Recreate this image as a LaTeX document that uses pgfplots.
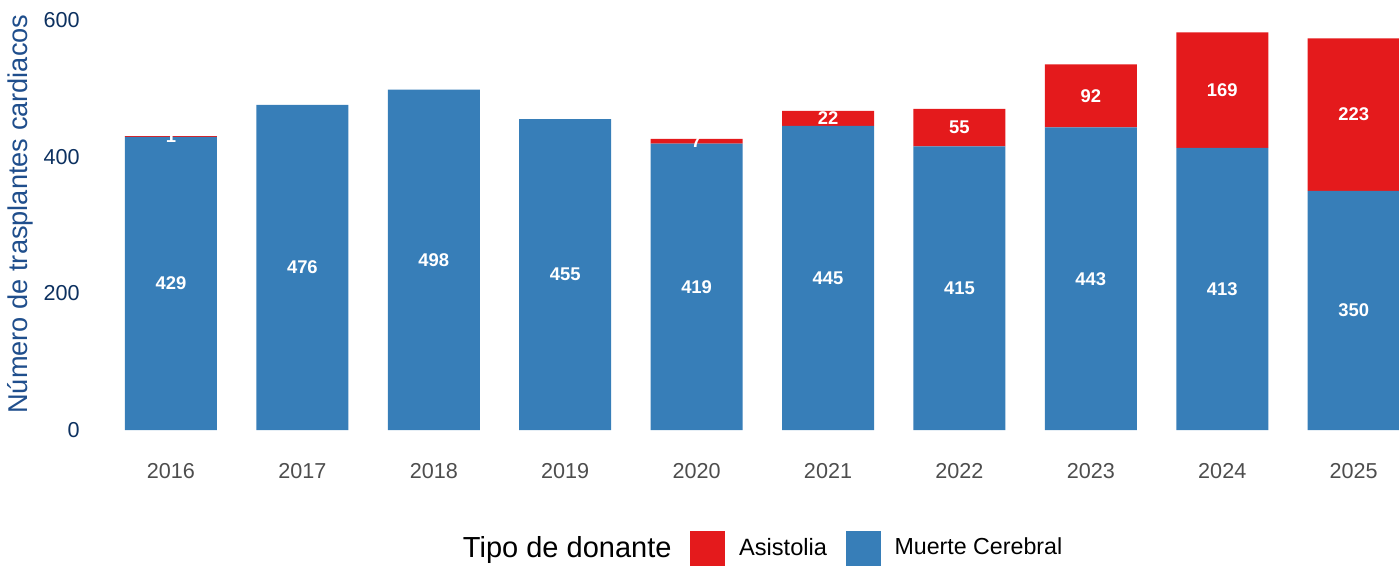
\documentclass[border=0pt]{standalone}
\usepackage{fontspec}
\setmainfont{Liberation Sans}
\usepackage{pgfplots}
\usepackage{pgfplotstable}
\pgfplotsset{compat=1.18}
\definecolor{mcblue}{HTML}{377EB8}
\definecolor{asred}{HTML}{E41A1C}
\definecolor{tickblue}{HTML}{0D3160}
\definecolor{labblue}{HTML}{1F4E8C}
\definecolor{xgray}{HTML}{4D4D4D}
\pgfplotstableread{
x mc as
1 429 1
2 476 0
3 498 0
4 455 0
5 419 7
6 445 22
7 415 55
8 443 92
9 413 169
10 350 223
}\datatable
\pgfplotsset{common/.style={
  x=65.7pt, y=0.341667pt,
  xmin=0.4, xmax=10.35, ymin=0, ymax=620,
  clip=false}}
\begin{document}
\begin{tikzpicture}
\begin{axis}[
  common,
  ybar stacked, bar width=0.7,
  axis line style={draw=none},
  tick style={draw=none},
  xtick={1,2,3,4,5,6,7,8,9,10},
  xticklabels={2016,2017,2018,2019,2020,2021,2022,2023,2024,2025},
  ytick={0,200,400,600},
  /pgf/number format/assume math mode=true,
  yticklabel style={font=\fontsize{10.8}{12}\selectfont, text=tickblue, anchor=east, inner sep=0pt, xshift=-6pt},
  xticklabel style={font=\fontsize{10.8}{12}\selectfont, text=xgray, anchor=north, inner sep=0pt, yshift=-16.5pt},
  ylabel={Número de trasplantes cardiacos},
  ylabel style={at={(axis description cs:-0.0552,0.5097)}, anchor=center, font=\fontsize{13.6}{15}\selectfont, text=labblue},
]
\addplot[fill=mcblue, draw=none] table[x=x, y=mc] {\datatable};
\addplot[fill=asred, draw=none] table[x=x, y=as] {\datatable};
\end{axis}
\begin{axis}[
  common,
  hide axis,
  legend columns=3,
  legend style={draw=none, fill=none, inner sep=0pt, outer sep=0pt,
    at={(axis description cs:0.2729,-0.2785)}, anchor=west,
    nodes={inner sep=0pt, anchor=west},
    /tikz/every odd column/.append style={column sep=7pt},
    /tikz/every even column/.append style={column sep=9.3pt}},
  legend image code/.code={\fill[#1] (0pt,-8.75pt) rectangle (17.5pt,8.75pt);},
]
\addlegendimage{empty legend}
\addlegendentry{\fontsize{14.5}{16}\selectfont Tipo de donante}
\addlegendimage{fill=asred, draw=none}
\addlegendentry{\fontsize{11.8}{13}\selectfont Asistolia}
\addlegendimage{fill=mcblue, draw=none}
\addlegendentry{\fontsize{11.6}{13}\selectfont Muerte Cerebral}

\addplot[only marks, mark=none, forget plot, point meta=explicit symbolic,
  nodes near coords,
  nodes near coords style={anchor=center, text=white, inner sep=0pt, font=\bfseries\fontsize{9.2}{10}\selectfont}]
  coordinates {
  (1,214.5) [429] (2,238) [476] (3,249) [498] (4,227.5) [455] (5,209.5) [419]
  (6,222.5) [445] (7,207.5) [415] (8,221.5) [443] (9,206.5) [413] (10,175) [350]
  (1,429.5) [1] (5,422.5) [7] (6,456) [22] (7,442.5) [55] (8,489) [92]
  (9,497.5) [169] (10,461.5) [223]
  };

\coordinate (bl) at (axis cs:-0.301,-200.5);
\coordinate (tr) at (axis cs:10.345,629.3);
\end{axis}
\pgfresetboundingbox
\path[use as bounding box] (bl) rectangle (tr);
\end{tikzpicture}
\end{document}
